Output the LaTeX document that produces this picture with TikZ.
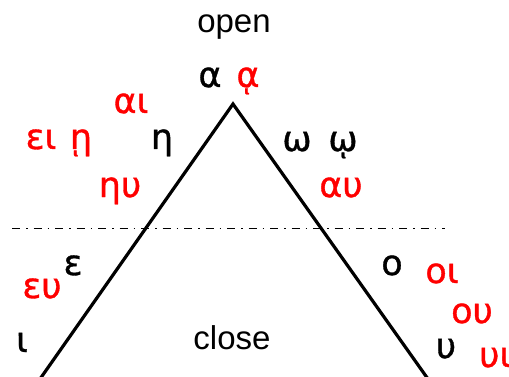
\documentclass[tikz,border=0pt]{standalone}
\usepackage{fontspec}
\setmainfont{Liberation Sans}
\newfontfamily\grk[FakeBold=1]{DejaVu Sans}
\begin{document}
\begin{tikzpicture}[x=1pt,y=-1pt,
  lbl/.style={font=\fontsize{33}{35}\selectfont, inner sep=0pt, anchor=base},
  gk/.style={font=\grk\fontsize{35}{37}\selectfont, inner sep=0pt, anchor=base},
  rd/.style={gk, text=red},
  side/.style={line width=3.2pt, line join=miter},
  mid/.style={line width=0.9pt, dash pattern=on 8pt off 6pt on 1.5pt off 6pt}]
\useasboundingbox (0,0) rectangle (509,377);
\coordinate (apex) at (233,104);
\coordinate (bl) at (40,379);
\coordinate (br) at (428,379);
\coordinate (ml) at (12,228);
\coordinate (mr) at (445,228);
\draw[side] (bl) -- (apex) -- (br);
\draw[mid] (ml) -- (mr);
\node[lbl] (open) at (234,33) {open};
\node[lbl] (close) at (232,349) {close};
\node[gk] (alpha) at (210,87) {α};
\node[rd] (alphai) at (248,87) {ᾳ};
\node[rd] (ai) at (131,113) {αι};
\node[rd] (ei) at (41,149) {ει};
\node[rd] (etai) at (81,149) {ῃ};
\node[gk] (eta) at (162,149) {η};
\node[rd] (eu1) at (120,197) {ηυ};
\node[gk] (omega) at (297,151) {ω};
\node[gk] (omegai) at (343,151) {ῳ};
\node[rd] (au) at (341,197) {αυ};
\node[gk] (eps) at (73,275) {ε};
\node[rd] (eu) at (42,298) {ευ};
\node[gk] (iota) at (22,352) {ι};
\node[gk] (omi) at (392,275) {ο};
\node[rd] (oi) at (442,283) {οι};
\node[rd] (ou) at (472,323) {ου};
\node[gk] (ups) at (446,358) {υ};
\node[rd, anchor=base west] (ui) at (479,367) {υι};
\end{tikzpicture}
\end{document}
